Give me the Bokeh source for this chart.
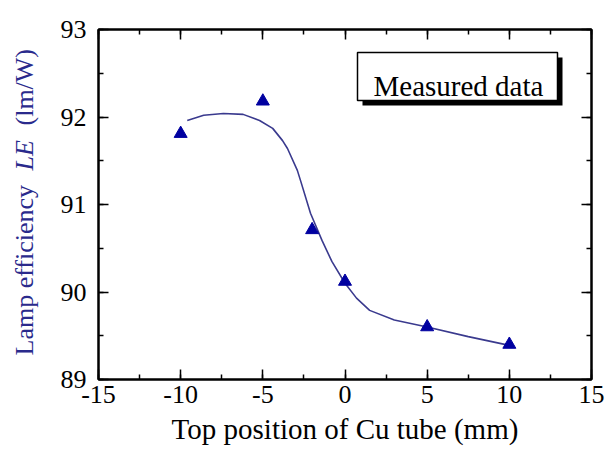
from bokeh.plotting import figure
from bokeh.models import (LinearAxis, SingleIntervalTicker, FixedTicker, Label,
                          BoxAnnotation, Range1d, Title)
from bokeh.embed import file_html
from bokeh.resources import INLINE

# measured data
positions = [-10, -5, -2, 0, 5, 10]
efficiency = [91.81, 92.18, 90.71, 90.12, 89.60, 89.40]

# fitted curve
fit_x = [-9.6, -8.6, -7.4, -6.2, -5.2, -4.4, -3.8, -3.5, -2.9, -2.7, -2.1, -1.4,
         -0.8, 0.0, 0.7, 1.5, 3.0, 5.0, 7.5, 10.0]
fit_y = [91.96, 92.02, 92.04, 92.03, 91.96, 91.87, 91.73, 91.64, 91.39, 91.27,
         90.90, 90.59, 90.35, 90.10, 89.93, 89.79, 89.68, 89.60, 89.49, 89.39]

x_ticks = [-15, -10, -5, 0, 5, 10, 15]
x_tick_labels = ["-15", "-10", "-5", "0", "5", "10", "15"]

X0, X1 = -15, 15
Y0, Y1 = 89, 93
W, H = 607, 455
FL, FR, FT, FB = 98, 591, 29, 379


def px2x(px):
    return X0 + (px - FL) / (FR - FL) * (X1 - X0)


def py2y(py):
    return Y1 - (py - FT) / (FB - FT) * (Y1 - Y0)


FONT = "Liberation Serif"

p = figure(width=W, height=H, x_range=Range1d(X0, X1), y_range=Range1d(Y0, Y1),
           output_backend="svg", toolbar_location=None,
           min_border_left=FL, min_border_right=W - FR,
           min_border_top=FT, min_border_bottom=H - FB)
p.grid.visible = False
p.outline_line_color = "black"
p.outline_line_width = 2
p.background_fill_color = "white"
p.border_fill_color = "white"

xt = SingleIntervalTicker(interval=5, num_minor_ticks=2)
yt = SingleIntervalTicker(interval=1, num_minor_ticks=2)


def style_axis(ax, show_labels):
    ax.axis_line_color = "black"
    ax.axis_line_width = 2
    ax.major_tick_in = 10
    ax.major_tick_out = 0
    ax.minor_tick_in = 5
    ax.minor_tick_out = 0
    ax.major_tick_line_color = "black"
    ax.major_tick_line_width = 1.5
    ax.minor_tick_line_color = "black"
    ax.minor_tick_line_width = 1.5
    if show_labels:
        ax.major_label_text_font = FONT
        ax.major_label_text_font_size = "26px"
        ax.major_label_text_color = "black"
    else:
        ax.major_label_text_font_size = "0px"
        ax.major_label_standoff = 0


xa = p.xaxis[0]
xa.ticker = xt
style_axis(xa, True)
xa.major_label_standoff = 6
xa.major_label_overrides = {t: s for t, s in zip(x_ticks, x_tick_labels)}

ya = p.yaxis[0]
ya.ticker = yt
style_axis(ya, True)
ya.major_label_standoff = 12

top = LinearAxis(ticker=xt)
style_axis(top, False)
p.add_layout(top, "above")
right = LinearAxis(ticker=yt)
style_axis(right, False)
p.add_layout(right, "right")

# x axis title
p.add_layout(Title(text="Top position of Cu tube (mm)", align="center",
                   vertical_align="bottom", standoff=10,
                   text_font=FONT, text_font_size="29px",
                   text_font_style="normal", text_color="black"), "below")

# invisible spacer on the left, then zero-width titles for the y axis title pieces
spacer = LinearAxis(ticker=FixedTicker(ticks=[Y0]), axis_line_color=None,
                    major_tick_line_color=None, minor_tick_line_color=None,
                    major_tick_in=0, major_tick_out=33, minor_tick_in=0, minor_tick_out=0,
                    major_label_standoff=0, major_label_text_font_size="0px")
p.add_layout(spacer, "left")

YCOL = "#2a2a8c"
for txt, start, style in [("Lamp efficiency", 355, "normal"),
                          ("LE", 170, "italic"),
                          ("(lm/W)", 125, "normal")]:
    p.add_layout(Title(text=txt, align="left", vertical_align="middle",
                       offset=FB - start, standoff=-31,
                       text_font=FONT, text_font_size="26px",
                       text_font_style=style, text_color=YCOL), "left")

# legend box with shadow
p.add_layout(BoxAnnotation(left=px2x(362), right=px2x(562), top=py2y(57), bottom=py2y(105),
                           fill_color="black", fill_alpha=1, line_color=None))
p.add_layout(BoxAnnotation(left=px2x(357), right=px2x(557), top=py2y(52), bottom=py2y(100),
                           fill_color="white", fill_alpha=1, line_color="black",
                           line_alpha=1, line_width=1.5))
p.add_layout(Label(x=px2x(373), y=py2y(85), text="Measured data",
                   text_align="left", text_baseline="alphabetic",
                   text_font=FONT, text_font_size="29px", text_color="black"))

p.line(fit_x, fit_y, line_color="#3a3a8e", line_width=1.6)
p.scatter(positions, efficiency, marker="triangle", size=13,
          fill_color="#0000a0", line_color="#0000a0")

open("out.html", "w").write(file_html(p, INLINE))
